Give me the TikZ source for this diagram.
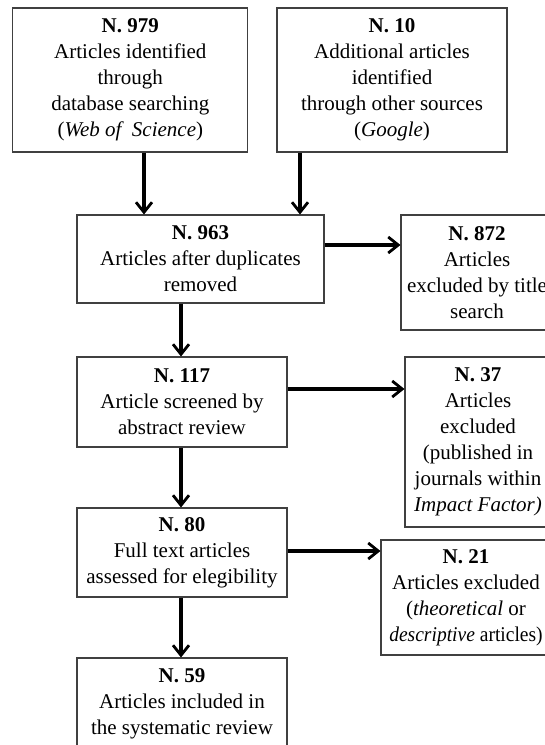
\documentclass[tikz,border=0pt]{standalone}
\usepackage{fontspec}
\usepackage{graphicx}
\setmainfont{Liberation Serif}
\usetikzlibrary{arrows.meta}
\tikzset{
  box/.style={draw=black!75, line width=1.1pt, rectangle, inner sep=0pt, align=center,
    font=\fontsize{21}{26}\selectfont, text=black},
  arr/.style={line width=3.4pt, draw=black, -{Straight Barb[length=10pt,width=16pt,line width=2.8pt]}},
}
\begin{document}
\begin{tikzpicture}[x=1pt,y=-1pt]
\useasboundingbox (0,0) rectangle (545,745);
\clip (0,0) rectangle (545,745);
\fill[white] (0,0) rectangle (545,745);

\node[box, minimum width=235pt, minimum height=144pt] (A) at (130.3,80)
  {\textbf{N. 979}\\Articles identified\\through\\database searching\\(\textit{Web of\ \ Science})};
\node[box, minimum width=230pt, minimum height=144pt] (B) at (392,80)
  {\textbf{N. 10}\\Additional articles\\identified\\through other sources\\(\textit{Google})};
\node[box, minimum width=247pt, minimum height=88pt] (C) at (200.5,259)
  {\textbf{N. 963}\\Articles after duplicates\\removed};
\node[box, minimum width=152pt, minimum height=115pt] (D) at (477,272.5)
  {\textbf{N. 872}\\Articles\\excluded by title\\search};
\node[box, minimum width=146pt, minimum height=170pt] (F) at (478,442)
  {\textbf{N. 37}\\Articles\\excluded\\(published in\\journals within\\\textit{Impact Factor)}};
\node[box, minimum width=210pt, minimum height=90pt] (E) at (182,402)
  {\textbf{N. 117}\\Article screened by\\abstract review};
\node[box, minimum width=210pt, minimum height=89pt] (G) at (182,552.5)
  {\textbf{N. 80}\\Full text articles\\assessed for elegibility};
\node[box, minimum width=170pt, minimum height=115pt] (H) at (466,597.5)
  {\textbf{N. 21}\\Articles excluded\\(\textit{theoretical} or\\\scalebox{0.93}[1]{\textit{descriptive} articles)}};
\node[box, minimum width=210pt, minimum height=92pt] (I) at (182,704)
  {\textbf{N. 59}\\Articles included in\\the systematic review};

\coordinate (xa) at (144,0);
\coordinate (xb) at (300,0);
\coordinate (xe) at (181,0);
\coordinate (ycd) at (0,245);
\coordinate (yef) at (0,389);
\coordinate (ygh) at (0,551);

\draw[arr] (A.south -| xa) -- (C.north -| xa);
\draw[arr] (B.south -| xb) -- (C.north -| xb);
\draw[arr] (C.east |- ycd) -- (D.west |- ycd);
\draw[arr] (C.south -| xe) -- (E.north -| xe);
\draw[arr] (E.east |- yef) -- (F.west |- yef);
\draw[arr] (E.south -| xe) -- (G.north -| xe);
\draw[arr] (G.east |- ygh) -- (H.west |- ygh);
\draw[arr] (G.south -| xe) -- (I.north -| xe);
\end{tikzpicture}
\end{document}
